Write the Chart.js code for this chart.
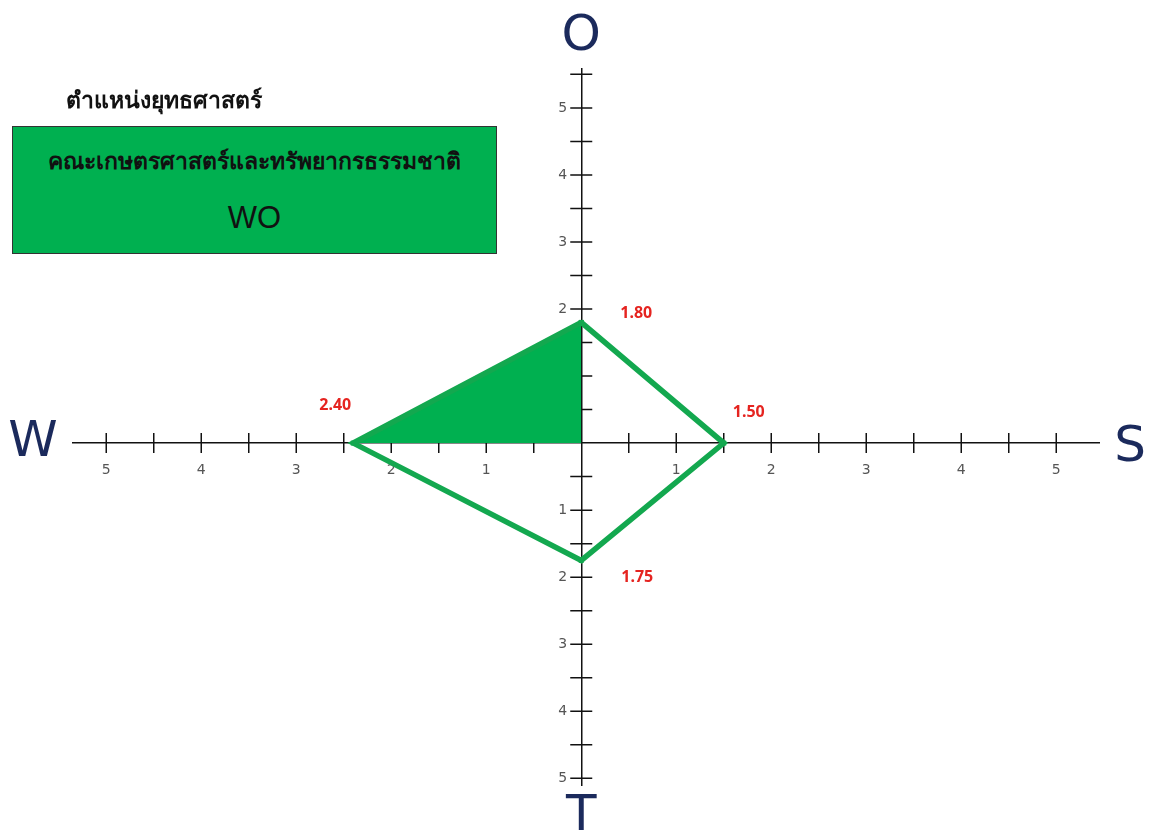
<!DOCTYPE html>
<html>
<head>
<meta charset="utf-8">
<script src="https://cdn.jsdelivr.net/npm/chart.js@4.4.1/dist/chart.umd.min.js"></script>
<style>
  body { margin: 0; background: #fff; font-family: "Noto Sans", sans-serif; }
  #wrap { position: relative; width: 1158px; height: 839px; }
  #heading { position: absolute; left: 66px; top: 82px; font-size: 23px; font-weight: bold; color: #111; }
  #box { position: absolute; left: 12px; top: 126px; width: 483px; height: 126px; background: #00b050; border: 1.5px solid #333; text-align: center; color: #111; }
  #box .faculty { margin-top: 16px; font-size: 23px; font-weight: bold; }
  #box .pos { margin-top: 21px; font-size: 31px; font-family: "Liberation Sans", Arial, sans-serif; }
</style>
</head>
<body>
<div id="wrap">
  <canvas id="myChart"></canvas>
  <div id="heading">ตำแหน่งยุทธศาสตร์</div>
  <div id="box">
    <div class="faculty">คณะเกษตรศาสตร์และทรัพยากรธรรมชาติ</div>
    <div class="pos">WO</div>
  </div>
</div>
<script>
// SWOT scores
var directions = ['O', 'S', 'T', 'W'];
var scores = [1.80, 1.50, 1.75, 2.40];
// axis ranges / tick spacing
var xRange = [-5.35, 5.45];
var yRange = [-5.1, 5.58];
var tickStep = 0.5;

var green = '#13a84f';

function pointFor(dir, v) {
    if (dir == 'O') return {x: 0, y: v};
    if (dir == 'S') return {x: v, y: 0};
    if (dir == 'T') return {x: 0, y: -v};
    return {x: -v, y: 0};
}

var outline = directions.map(function(d, i){ return pointFor(d, scores[i]); });
outline.push(outline[0]);
// W-O quadrant gets filled
var woFill = [pointFor('W', scores[3]), pointFor('O', scores[0])];

function absLabel(v){
    if (v === 0 || Math.abs(v % 1) > 1e-9) return '';
    return String(Math.abs(v));
}

// tick marks crossing the axis, plus the y labels (chart.js keeps them on the axis line when centred)
var crossTicks = {
    id: 'crossTicks',
    beforeDatasetsDraw: function(chart){
        var ctx = chart.ctx, x = chart.scales.x, y = chart.scales.y;
        var x0 = x.getPixelForValue(0), y0 = y.getPixelForValue(0);
        ctx.save();
        ctx.strokeStyle = '#111';
        ctx.lineWidth = 1.5;
        ctx.beginPath();
        x.ticks.forEach(function(t){
            if (t.value === 0) return;
            var px = x.getPixelForValue(t.value);
            ctx.moveTo(px, y0 - 10); ctx.lineTo(px, y0 + 10);
        });
        y.ticks.forEach(function(t){
            if (t.value === 0) return;
            var py = y.getPixelForValue(t.value);
            ctx.moveTo(x0 - 11, py); ctx.lineTo(x0 + 11, py);
        });
        ctx.stroke();

        ctx.fillStyle = '#555';
        ctx.font = '14px "DejaVu Sans", sans-serif';
        ctx.textAlign = 'right';
        ctx.textBaseline = 'middle';
        y.ticks.forEach(function(t){
            ctx.fillText(absLabel(t.value), x0 - 14, y.getPixelForValue(t.value));
        });
        ctx.restore();
    }
};

// value labels + the big axis letters
var labelsPlugin = {
    id: 'swotLabels',
    afterDraw: function(chart){
        var ctx = chart.ctx, x = chart.scales.x, y = chart.scales.y;
        var x0 = x.getPixelForValue(0), y0 = y.getPixelForValue(0);
        var offs = {O: [55, -9], S: [25, -31], T: [56, 17], W: [-18, -38]};
        ctx.save();
        ctx.fillStyle = '#e52420';
        ctx.font = 'bold 16px "Noto Sans", sans-serif';
        ctx.textAlign = 'center';
        ctx.textBaseline = 'middle';
        directions.forEach(function(d, i){
            var p = pointFor(d, scores[i]);
            var px = x.getPixelForValue(p.x), py = y.getPixelForValue(p.y);
            ctx.fillText(scores[i].toFixed(2), px + offs[d][0], py + offs[d][1]);
        });
        ctx.fillStyle = '#1b2a5c';
        ctx.font = '50px "DejaVu Sans", sans-serif';
        ctx.fillText('W', x.left - 40, y0);
        ctx.fillText('S', x.right + 31, y0 + 5);
        ctx.fillText('O', x0, y.top - 32);
        ctx.fillText('T', x0, y.bottom + 32);
        ctx.restore();
    }
};

function drawSwot(){
    var ctx = document.getElementById('myChart').getContext('2d');
    new Chart(ctx, {
        type: 'scatter',
        data: {
            datasets: [{
                data: outline,
                showLine: true,
                borderColor: green,
                borderWidth: 5.5,
                backgroundColor: green,
                pointRadius: 3.5,
                pointBorderWidth: 0,
                pointStyle: 'rect',
                fill: false
            }, {
                data: woFill,
                showLine: true,
                borderWidth: 0,
                pointRadius: 0,
                backgroundColor: '#00b050',
                fill: 'origin'
            }]
        },
        plugins: [crossTicks, labelsPlugin],
        options: {
            responsive: true,
            maintainAspectRatio: false,
            animation: false,
            layout: { padding: { left: 73, right: 59, top: 69, bottom: 54 } },
            plugins: { legend: { display: false }, tooltip: { enabled: false } },
            scales: {
                x: {
                    type: 'linear',
                    min: xRange[0], max: xRange[1],
                    position: { y: 0 },
                    grid: { display: false, drawTicks: false },
                    border: { color: '#111', width: 1.5 },
                    ticks: {
                        stepSize: tickStep, autoSkip: false, includeBounds: false,
                        maxRotation: 0, padding: 19,
                        color: '#555', font: { size: 14, family: '"DejaVu Sans", sans-serif' },
                        callback: absLabel
                    }
                },
                y: {
                    type: 'linear',
                    min: yRange[0], max: yRange[1],
                    position: { x: 0 },
                    grid: { display: false, drawTicks: false },
                    border: { color: '#111', width: 1.5 },
                    ticks: {
                        stepSize: tickStep, autoSkip: false, includeBounds: false,
                        display: false
                    }
                }
            }
        }
    });
}

drawSwot();
</script>
</body>
</html>
